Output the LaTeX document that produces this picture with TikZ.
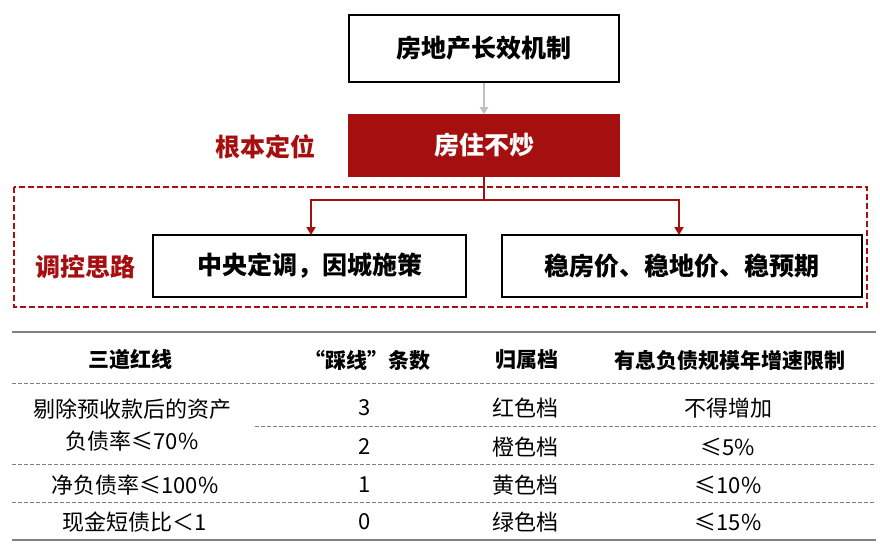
\documentclass[tikz,border=0pt]{standalone}
\usepackage{fontspec}
\setmainfont{Noto Sans CJK SC}
\usetikzlibrary{arrows.meta}
\definecolor{dred}{HTML}{A50F0F}
\begin{document}
\begin{tikzpicture}[x=1pt,y=-1pt,
 box/.style={draw=black,line width=1.5pt,minimum height=60pt,font=\bfseries\fontsize{25}{27}\selectfont,inner sep=0pt},
 lab/.style={text=dred,font=\bfseries\fontsize{25}{27}\selectfont},
 cell/.style={font=\fontsize{22}{24}\selectfont,anchor=center},
 hd/.style={font=\bfseries\fontsize{21}{23}\selectfont,anchor=center},
 dl/.style={gray,dash pattern=on 4pt off 2pt,line width=1pt}]
\useasboundingbox (0,0) rectangle (880,556);
\node[box,minimum width=270pt,minimum height=67pt] (b1) at (484,48.5) {房地产长效机制};
\node[box,fill=dred,draw=dred,text=white,minimum width=270pt,minimum height=61pt] (b2) at (484,145.5) {房住不炒};
\draw[-{Triangle[width=8pt,length=7pt]},line width=2pt,lightgray] (b1.south) -- (b2.north);
\node[lab] (l1) at (265,147) {根本定位};
\draw[dred,dash pattern=on 6pt off 3pt,line width=1.2pt] (14,187) rectangle (867,307);
\node[box,minimum width=313pt,minimum height=62pt] (b3) at (309.5,266) {中央定调，因城施策};
\node[box,minimum width=360pt,minimum height=62pt] (b4) at (682,266) {稳房价、稳地价、稳预期};
\node[lab] (l2) at (85,267) {调控思路};
\coordinate (j) at (484,200);
\draw[dred,line width=2pt] (b2.south) -- (j);
\draw[dred,line width=2pt,-{Triangle[width=9pt,length=8pt]}] (j) -| (311,235);
\draw[dred,line width=2pt,-{Triangle[width=9pt,length=8pt]}] (j) -| (679,235);
% table
\draw[gray,line width=2.5pt] (12,332) -- (876,332);
\draw[gray,line width=2.5pt] (12,540) -- (876,540);
\draw[dl] (12,383) -- (876,383);
\draw[dl] (255,426) -- (876,426);
\draw[dl] (12,464) -- (876,464);
\draw[dl] (12,502) -- (876,502);
\node[hd] (h1) at (130,360) {三道红线};
\node[hd] (h2) at (367,360) {“踩线”条数};
\node[hd] (h3) at (527,360) {归属档};
\node[hd] (h4) at (730,360) {有息负债规模年增速限制};
\node[cell] (a1) at (132,409) {剔除预收款后的资产};
\node[cell] (a2) at (132,441) {负债率≤70\%};
\node[cell] (c1) at (365,408) {3};
\node[cell] (d1) at (525,408) {红色档};
\node[cell] (e1) at (728,408) {不得增加};
\node[cell] (c2) at (365,447) {2};
\node[cell] (d2) at (525,447) {橙色档};
\node[cell] (e2) at (728,447) {≤5\%};
\node[cell] (a3) at (135,485) {净负债率≤100\%};
\node[cell] (c3) at (365,485) {1};
\node[cell] (d3) at (525,485) {黄色档};
\node[cell] (e3) at (728,485) {≤10\%};
\node[cell] (a4) at (135,522) {现金短债比＜1};
\node[cell] (c4) at (365,522) {0};
\node[cell] (d4) at (525,522) {绿色档};
\node[cell] (e4) at (728,522) {≤15\%};
\end{tikzpicture}
\end{document}
